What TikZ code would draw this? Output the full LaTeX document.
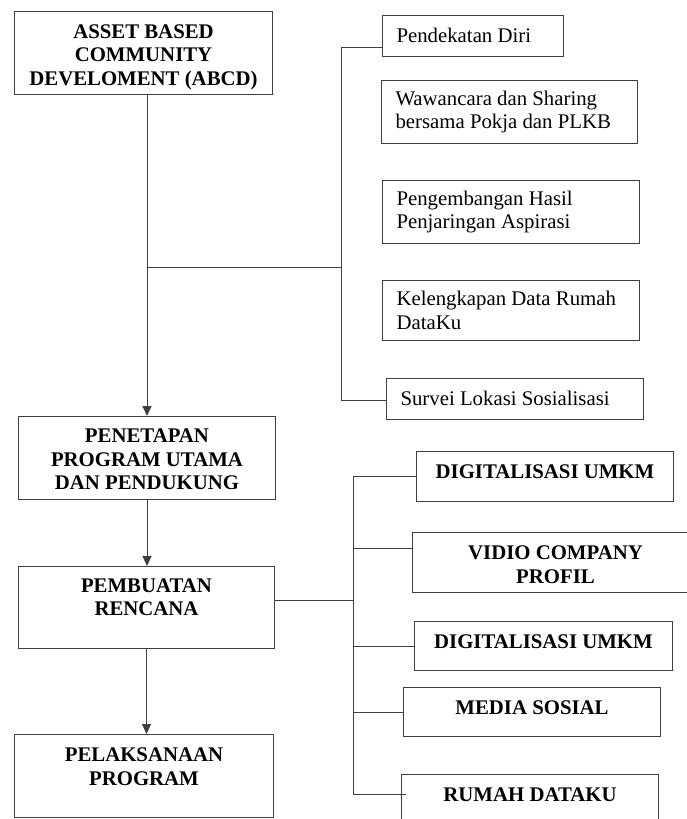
\documentclass[tikz,border=0pt]{standalone}
\usepackage{fontspec}
\setmainfont{Liberation Serif}
\usetikzlibrary{arrows.meta}
\newcommand{\ukuran}{\fontsize{20.8}{23.5}\selectfont}
\newcommand{\turun}[1]{\rule{0pt}{#1pt}}
\begin{document}
\begin{tikzpicture}[x=1pt,y=-1pt,>={Triangle[length=10pt,width=9pt]},line width=1pt,draw=black!75,
font=\ukuran,
kotak/.style={draw,anchor=north west,inner sep=0pt,align=center,font=\ukuran\bfseries},
kiri/.style={draw,anchor=north west,inner ysep=0pt,inner xsep=14pt,align=flush left},
naik/.style={text height=15pt,text depth=11pt},
rata/.style={text height=18pt,text depth=6pt}]
\useasboundingbox (0,0) rectangle (686,819);
\node[kotak,minimum width=258,minimum height=83](abcd) at (14,11){\turun{22}ASSET BASED\\COMMUNITY\\DEVELOMENT (ABCD)};
\node[kotak,minimum width=257,minimum height=83](penetapan) at (18,416){\turun{17}PENETAPAN\\PROGRAM UTAMA\\DAN PENDUKUNG};
\node[kotak,minimum width=256,minimum height=82](pembuatan) at (18,566){\turun{24}PEMBUATAN\\RENCANA\\\strut};
\node[kotak,minimum width=259,minimum height=83](pelaksanaan) at (14,734){\turun{26}PELAKSANAAN\\PROGRAM\\\strut};
\node[kiri,rata,minimum width=181,minimum height=41,text width=153](diri) at (382,15){Pendekatan Diri};
\node[kiri,minimum width=256,minimum height=63,text width=228](wawancara) at (381,80){Wawancara dan Sharing\\bersama Pokja dan PLKB};
\node[kiri,minimum width=257,minimum height=63,text width=229](hasil) at (382,180){Pengembangan Hasil\\Penjaringan Aspirasi};
\node[kiri,minimum width=257,minimum height=60,text width=229](dataku) at (382,280){Kelengkapan Data Rumah\\DataKu};
\node[kiri,rata,minimum width=257,minimum height=41,text width=229](survei) at (386,378){Survei Lokasi Sosialisasi};
\node[kotak,naik,minimum width=257,minimum height=50](umkmA) at (416,451){DIGITALISASI UMKM};
\node[kotak,minimum width=286,minimum height=60](vidio) at (412,532){\turun{18}VIDIO COMPANY\\PROFIL};
\node[kotak,naik,minimum width=258,minimum height=49](umkmB) at (414,621){DIGITALISASI UMKM};
\node[kotak,naik,minimum width=257,minimum height=49](sosial) at (403,687){MEDIA SOSIAL};
\node[kotak,naik,minimum width=257,minimum height=50](rumah) at (401,774){RUMAH DATAKU};
\coordinate (cabang) at (147,267);
\coordinate (k1) at (341,47);
\coordinate (k2) at (341,400);
\coordinate (b1) at (353,477);
\coordinate (b2) at (353,794);
\draw[->](penetapan.north |- abcd.south)--(penetapan.north);
\draw[->](penetapan.south)--(pembuatan.north -| penetapan.south);
\draw[->](pembuatan.south)--(pelaksanaan.north -| pembuatan.south);
\draw (cabang)--(cabang -| k1);
\draw (diri.west |- k1)--(k1)--(k2)--(k2 -| survei.west);
\draw (pembuatan.east |- 0,600)--(b1 |- 0,600);
\draw (umkmA.west)--(b1 |- umkmA.west)--(b2)--([xshift=5pt]b2 -| rumah.west);
\draw (b1 |- 0,548)--(vidio.west |- 0,548);
\draw (b1 |- umkmB.west)--(umkmB.west);
\draw (b1 |- sosial.west)--(sosial.west);
\end{tikzpicture}
\end{document}
